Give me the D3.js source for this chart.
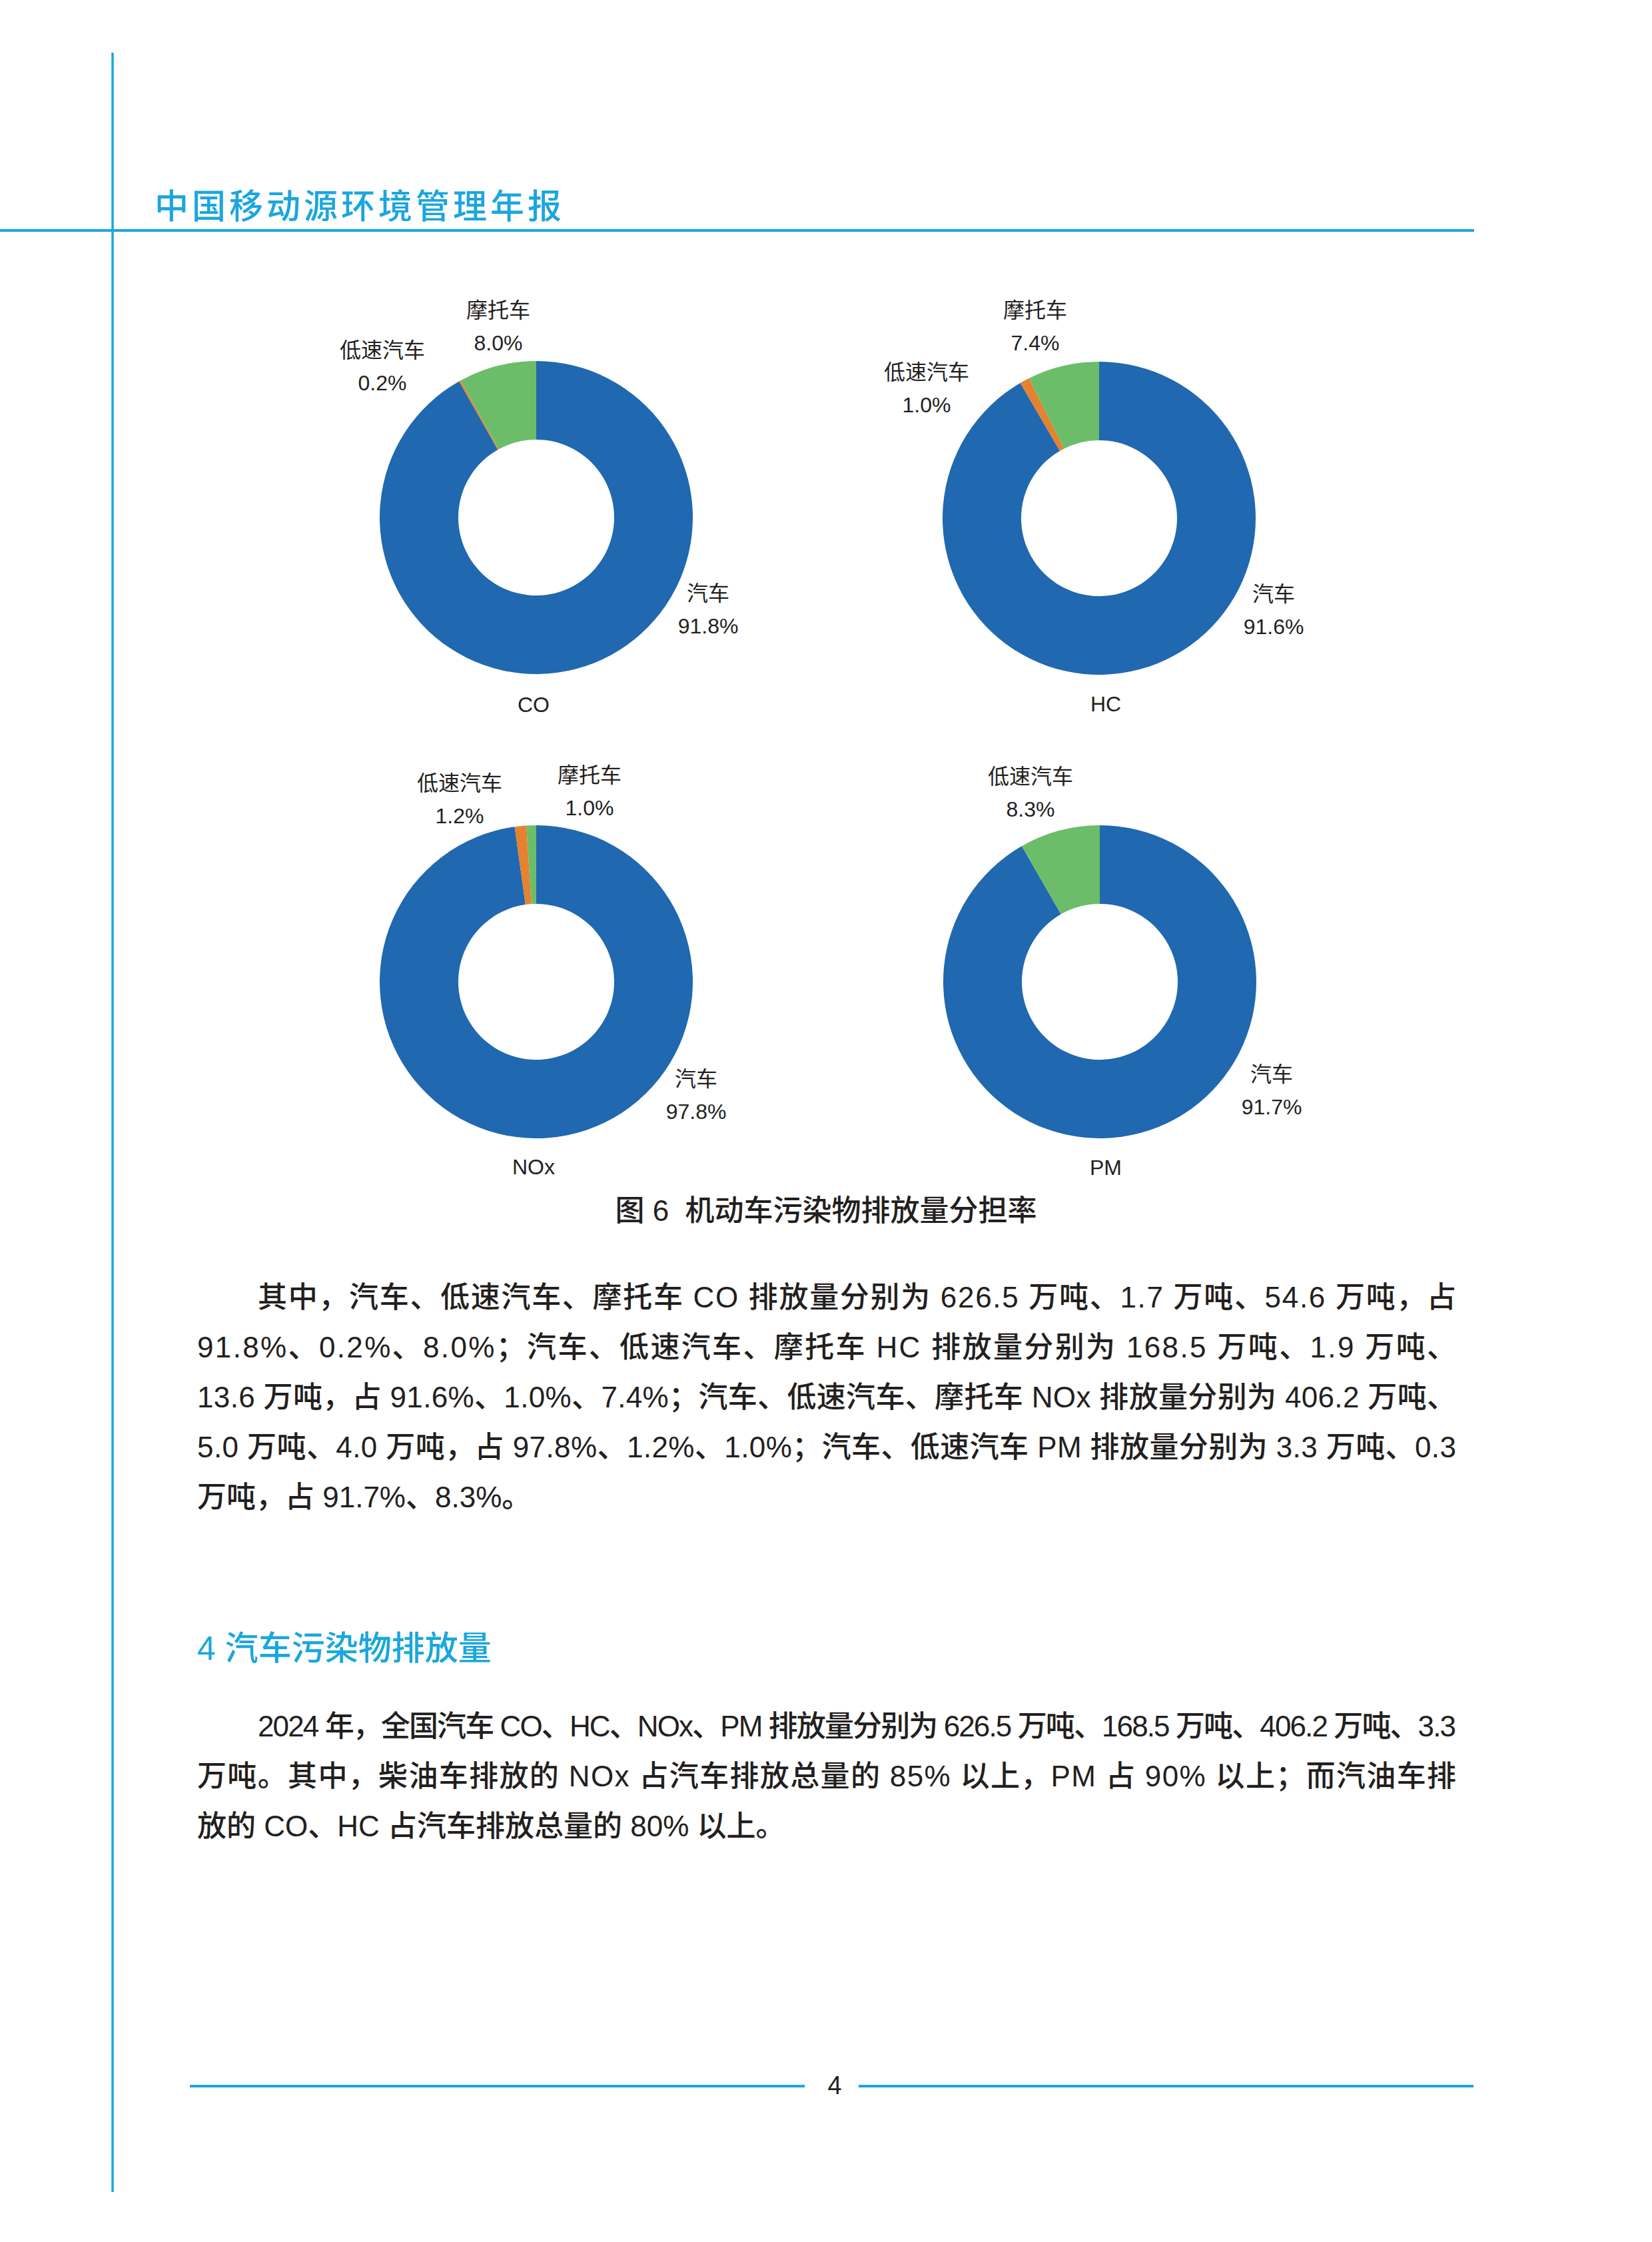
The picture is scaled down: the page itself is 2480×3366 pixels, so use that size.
<!DOCTYPE html>
<html>
<head>
<meta charset="utf-8">
<script src="https://cdn.jsdelivr.net/npm/d3@7/dist/d3.min.js"></script>
<style>
  html, body { margin: 0; padding: 0; background: #ffffff; }
  svg { display: block; }
  text { font-family: "Liberation Sans", "Noto Sans CJK SC", sans-serif; }
</style>
</head>
<body>
<svg id="page" width="2480" height="3366"></svg>
<script>
// ---------------- DATA ----------------
const categories = ["汽车", "低速汽车", "摩托车"];
const pollutants = ["CO", "HC", "NOx", "PM"];
const coShares  = [91.8, 0.2, 8.0];
const hcShares  = [91.6, 1.0, 7.4];
const noxShares = [97.8, 1.2, 1.0];
const pmCategories = ["汽车", "低速汽车"];
const pmShares  = [91.7, 8.3];

const headerTitle = "中国移动源环境管理年报";
const figureCaption = "图 6  机动车污染物排放量分担率";
const sectionTitle = "4 汽车污染物排放量";
const pageNumber = "4";
const para1Lines = [
  "其中，汽车、低速汽车、摩托车 CO 排放量分别为 626.5 万吨、1.7 万吨、54.6 万吨，占",
  "91.8%、0.2%、8.0%；汽车、低速汽车、摩托车 HC 排放量分别为 168.5 万吨、1.9 万吨、",
  "13.6 万吨，占 91.6%、1.0%、7.4%；汽车、低速汽车、摩托车 NOx 排放量分别为 406.2 万吨、",
  "5.0 万吨、4.0 万吨，占 97.8%、1.2%、1.0%；汽车、低速汽车 PM 排放量分别为 3.3 万吨、0.3",
  "万吨，占 91.7%、8.3%。"
];
const para2Lines = [
  "2024 年，全国汽车 CO、HC、NOx、PM 排放量分别为 626.5 万吨、168.5 万吨、406.2 万吨、3.3",
  "万吨。其中，柴油车排放的 NOx 占汽车排放总量的 85% 以上，PM 占 90% 以上；而汽油车排",
  "放的 CO、HC 占汽车排放总量的 80% 以上。"
];

// ---------------- STYLE / LAYOUT ----------------
const BLUE = "#2068b0", ORANGE = "#e4822f", GREEN = "#6cbd6a";
const CYAN = "#1ba6de", INK = "#231f20";

const charts = [
  { name: pollutants[0], cats: categories, values: coShares, colors: [BLUE, ORANGE, GREEN],
    cx: 805, cy: 777, titleDx: -4, titleY: 1058,
    labelOff: [[258, 114], [-231, -251], [-57, -311]] },
  { name: pollutants[1], cats: categories, values: hcShares, colors: [BLUE, ORANGE, GREEN],
    cx: 1650, cy: 778, titleDx: 10, titleY: 1057,
    labelOff: [[262, 114], [-259, -219], [-96, -312]] },
  { name: pollutants[2], cats: categories, values: noxShares, colors: [BLUE, ORANGE, GREEN],
    cx: 805, cy: 1474, titleDx: -4, titleY: 1752,
    labelOff: [[240, 146], [-115, -298], [80, -310]] },
  { name: pollutants[3], cats: pmCategories, values: pmShares, colors: [BLUE, GREEN],
    cx: 1651, cy: 1474, titleDx: 9, titleY: 1753,
    labelOff: [[258, 139], [-104, -308]] }
];
const R_OUT = 235, R_IN = 117;

const svg = d3.select("#page");

// ---------------- PAGE DECORATION ----------------
svg.append("line").attr("x1", 169).attr("x2", 169).attr("y1", 79).attr("y2", 3291)
  .attr("stroke", CYAN).attr("stroke-width", 3.5);
svg.append("line").attr("x1", 0).attr("x2", 2213).attr("y1", 346).attr("y2", 346)
  .attr("stroke", CYAN).attr("stroke-width", 4);
svg.append("text").attr("x", 232).attr("y", 310).attr("dominant-baseline", "central")
  .attr("font-size", 51).attr("letter-spacing", 5).attr("font-weight", 500).attr("fill", CYAN)
  .text(headerTitle);

// footer
svg.append("line").attr("x1", 285).attr("x2", 1208).attr("y1", 3132).attr("y2", 3132)
  .attr("stroke", CYAN).attr("stroke-width", 4);
svg.append("line").attr("x1", 1289).attr("x2", 2212).attr("y1", 3132).attr("y2", 3132)
  .attr("stroke", CYAN).attr("stroke-width", 4);
svg.append("text").attr("x", 1253).attr("y", 3131).attr("text-anchor", "middle")
  .attr("dominant-baseline", "central").attr("font-size", 38).attr("fill", INK)
  .text(pageNumber);

// ---------------- DONUTS ----------------
const pie = d3.pie().sort(null).value(d => d.v);
const arc = d3.arc().innerRadius(R_IN).outerRadius(R_OUT);

charts.forEach(ch => {
  const data = ch.values.map((v, i) => ({ cat: ch.cats[i], v, color: ch.colors[i], off: ch.labelOff[i] }));
  const g = svg.append("g").attr("transform", `translate(${ch.cx},${ch.cy})`);
  g.selectAll("path").data(pie(data)).join("path")
    .attr("d", arc).attr("fill", d => d.data.color);

  const lbl = g.selectAll("g.lbl").data(data).join("g").attr("class", "lbl")
    .attr("transform", d => `translate(${d.off[0]},${d.off[1]})`);
  lbl.append("text").attr("text-anchor", "middle").attr("dominant-baseline", "central")
    .attr("font-size", 32).attr("fill", INK).text(d => d.cat);
  lbl.append("text").attr("y", 49).attr("text-anchor", "middle").attr("dominant-baseline", "central")
    .attr("font-size", 32).attr("fill", INK).text(d => d3.format(".1f")(d.v) + "%");

  svg.append("text").attr("x", ch.cx + ch.titleDx).attr("y", ch.titleY)
    .attr("text-anchor", "middle").attr("dominant-baseline", "central")
    .attr("font-size", 32).attr("fill", INK).text(ch.name);
});

// caption
svg.append("text").attr("x", 1240).attr("y", 1817).attr("text-anchor", "middle")
  .attr("dominant-baseline", "central").attr("font-size", 44).attr("font-weight", 500).attr("fill", INK)
  .attr("xml:space", "preserve").style("white-space", "pre")
  .text(figureCaption);

// ---------------- BODY TEXT ----------------
const LEFT = 296, INDENT = 387, RIGHT = 2186, LINE_H = 75;
function paragraph(lines, y0) {
  lines.forEach((t, i) => {
    const x = i === 0 ? INDENT : LEFT;
    const last = i === lines.length - 1;
    const el = svg.append("text").attr("x", x).attr("y", y0 + i * LINE_H)
      .attr("dominant-baseline", "central").attr("font-size", 44).attr("font-weight", 500)
      .attr("fill", INK).text(t);
    if (!last) el.attr("textLength", RIGHT - x).attr("lengthAdjust", "spacing");
  });
}
paragraph(para1Lines, 1947);

svg.append("text").attr("x", 296).attr("y", 2475).attr("dominant-baseline", "central")
  .attr("font-size", 50).attr("font-weight", 500).attr("fill", CYAN).text(sectionTitle);

paragraph(para2Lines, 2591);
</script>
</body>
</html>
